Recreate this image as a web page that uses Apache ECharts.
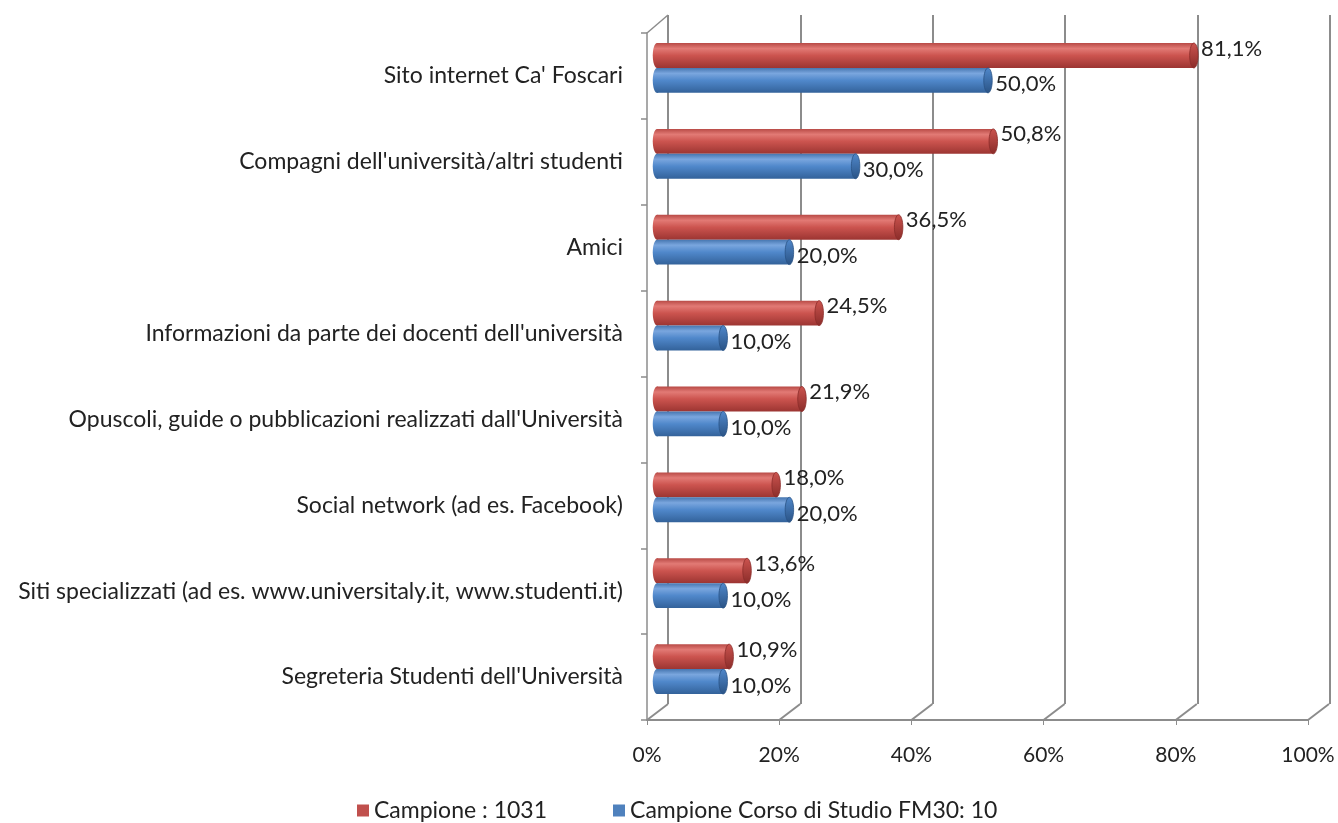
<!DOCTYPE html>
<html>
<head>
<meta charset="utf-8">
<script src="https://cdn.jsdelivr.net/npm/echarts@6/dist/echarts.min.js"></script>
<style>
html,body{margin:0;padding:0;background:#fff;}
#chart{width:1338px;height:823px;}
</style>
</head>
<body>
<div id="chart"></div>
<script>
var categories = [
  "Sito internet Ca' Foscari",
  "Compagni dell'università/altri studenti",
  "Amici",
  "Informazioni da parte dei docenti dell'università",
  "Opuscoli, guide o pubblicazioni realizzati dall'Università",
  "Social network (ad es. Facebook)",
  "Siti specializzati (ad es. www.universitaly.it, www.studenti.it)",
  "Segreteria Studenti dell'Università"
];
var campione = [81.1, 50.8, 36.5, 24.5, 21.9, 18.0, 13.6, 10.9];
var campioneFM30 = [50.0, 30.0, 20.0, 10.0, 10.0, 20.0, 10.0, 10.0];
var seriesNames = ["Campione : 1031", "Campione Corso di Studio FM30: 10"];
var tickValues = [0, 20, 40, 60, 80, 100];

var FONT = 'Lato';
var TXT = '#222';
var GRID = '#8c8c8c';

function fmt(v){ return v.toFixed(1).replace('.', ',') + '%'; }

function cylinder(isTop, c){
  return function(params, api){
    var v = api.value(0), ci = api.value(1);
    var p0 = api.coord([0, ci]);
    var p1 = api.coord([v, ci]);
    var band = api.size([0, 1])[1];
    var h = band * 0.29;
    var y = isTop ? p0[1] - h : p0[1];
    var rx = h * 0.17;
    var grad = new echarts.graphic.LinearGradient(0, 0, 0, 1, [
      {offset: 0, color: c[0]},
      {offset: 0.22, color: c[1]},
      {offset: 0.5, color: c[2]},
      {offset: 1, color: c[3]}
    ]);
    var capGrad = new echarts.graphic.LinearGradient(0, 0, 0, 1, [
      {offset: 0, color: c[2]},
      {offset: 1, color: c[4]}
    ]);
    return {
      type: 'group',
      children: [
        {type: 'ellipse', shape: {cx: p0[0], cy: y + h / 2, rx: rx, ry: h / 2}, style: {fill: grad}},
        {type: 'rect', shape: {x: p0[0], y: y, width: p1[0] - p0[0], height: h}, style: {fill: grad}},
        {type: 'ellipse', shape: {cx: p1[0], cy: y + h / 2, rx: rx, ry: h / 2}, style: {fill: capGrad, stroke: c[4], lineWidth: 0.8}},
        {type: 'text', style: {
          x: p1[0] + rx + 3, y: y + h / 2 + (isTop ? -7 : 4),
          text: fmt(v), fill: TXT, font: '22px ' + FONT,
          verticalAlign: 'middle', align: 'left'
        }}
      ]
    };
  };
}

var redColors = ['#b84a46', '#e27a75', '#cc544f', '#9c3532', '#8a2c29'];
var blueColors = ['#4676b0', '#7aa6de', '#5088cb', '#33629a', '#2a5385'];

var redData = campione.map(function(v, i){ return [v, i]; });
var blueData = campioneFM30.map(function(v, i){ return [v, i]; });

var chart = echarts.init(document.getElementById('chart'), null, {renderer: 'canvas'});
chart.setOption({
  animation: false,
  backgroundColor: '#fff',
  grid: [
    {left: 668, right: 8, top: 15, bottom: 119},
    {left: 647, right: 30, top: 33, bottom: 103},
    {left: 657, right: 19, top: 25, bottom: 111}
  ],
  xAxis: [
    {gridIndex: 0, type: 'value', min: 0, max: 100, interval: 20,
     axisLine: {show: false}, axisTick: {show: false}, axisLabel: {show: false},
     splitLine: {show: true, lineStyle: {color: GRID, width: 2}}},
    {gridIndex: 1, type: 'value', min: 0, max: 100, interval: 20,
     axisLine: {show: true, lineStyle: {color: GRID, width: 2}},
     axisTick: {show: true, length: 5, lineStyle: {color: GRID, width: 1}},
     axisLabel: {formatter: '{value}%', color: TXT, fontFamily: FONT, fontSize: 21, margin: 25},
     splitLine: {show: false}},
    {gridIndex: 2, type: 'value', min: 0, max: 100, show: false, splitLine: {show: false}}
  ],
  yAxis: [
    {gridIndex: 0, type: 'category', data: categories, inverse: true, show: false},
    {gridIndex: 1, type: 'category', data: categories, inverse: true,
     axisLine: {show: true, lineStyle: {color: GRID, width: 1.5}},
     axisTick: {show: true, length: 6, lineStyle: {color: GRID, width: 1.5}},
     axisLabel: {color: TXT, fontFamily: FONT, fontSize: 23, margin: 24}},
    {gridIndex: 2, type: 'category', data: categories, inverse: true, show: false}
  ],
  legend: {
    top: 794, left: 352,
    icon: 'rect', itemWidth: 12, itemHeight: 12, itemGap: 66,
    textStyle: {color: TXT, fontFamily: FONT, fontSize: 23},
    data: [
      {name: seriesNames[0], itemStyle: {color: '#c0504d'}},
      {name: seriesNames[1], itemStyle: {color: '#4f81bd'}}
    ]
  },
  series: [
    {
      type: 'custom', name: 'floor', xAxisIndex: 1, yAxisIndex: 1, silent: true,
      data: tickValues.map(function(v){ return [v]; }),
      encode: {x: 0},
      renderItem: function(params, api){
        var cs = params.coordSys;
        var v = api.value(0);
        var x = api.coord([v, 0])[0];
        var yb = cs.y + cs.height;
        var children = [
          {type: 'line', shape: {x1: x, y1: yb, x2: x + 21, y2: yb - 16},
           style: {stroke: GRID, lineWidth: 2}}
        ];
        if (v === 0) {
          children.push({type: 'line', shape: {x1: x, y1: cs.y, x2: x + 21, y2: cs.y - 18},
            style: {stroke: GRID, lineWidth: 1.5}});
        }
        return {type: 'group', children: children};
      }
    },
    {
      type: 'custom', name: seriesNames[0], xAxisIndex: 2, yAxisIndex: 2,
      itemStyle: {color: '#c0504d'},
      data: redData, encode: {x: 0, y: 1},
      renderItem: cylinder(true, redColors)
    },
    {
      type: 'custom', name: seriesNames[1], xAxisIndex: 2, yAxisIndex: 2,
      itemStyle: {color: '#4f81bd'},
      data: blueData, encode: {x: 0, y: 1},
      renderItem: cylinder(false, blueColors)
    }
  ]
});
</script>
</body>
</html>
